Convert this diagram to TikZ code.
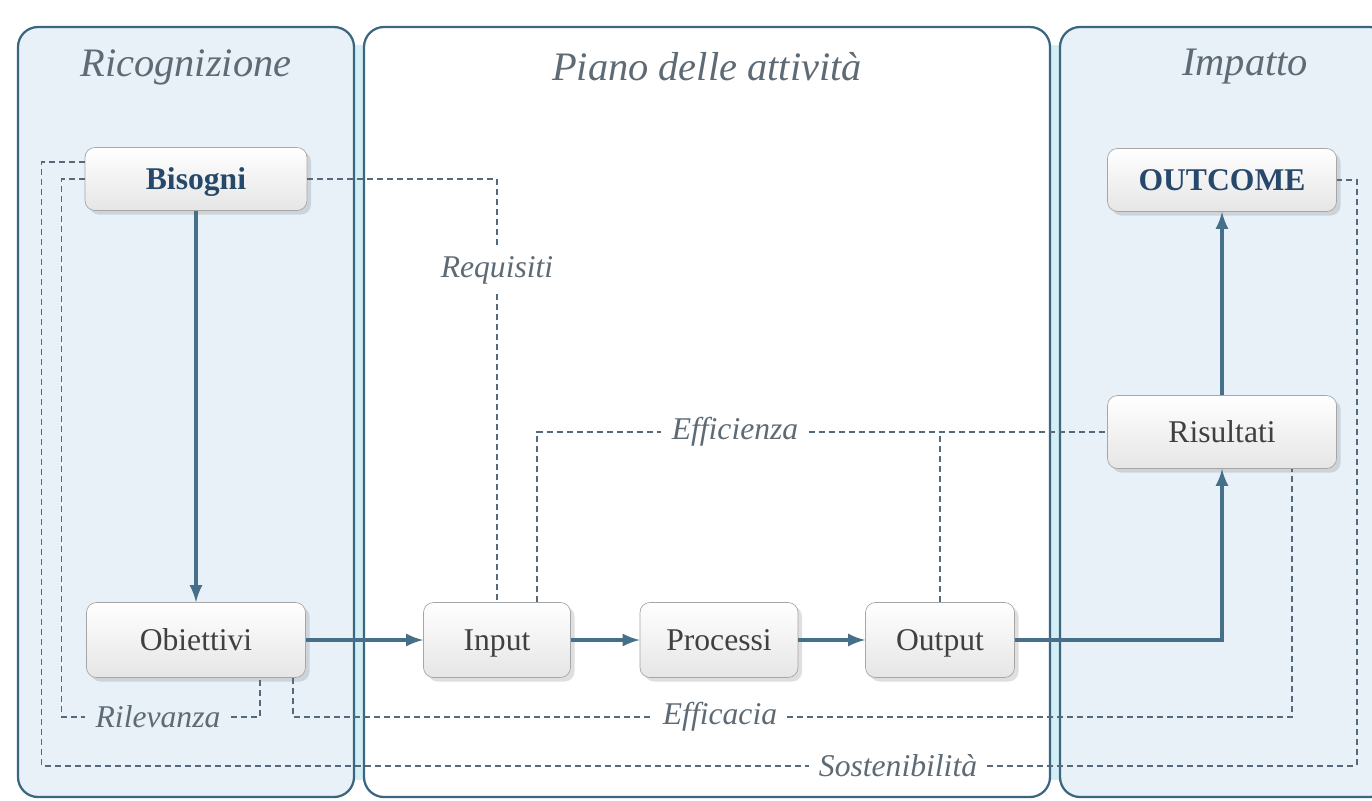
\documentclass[tikz,border=0pt]{standalone}
\usepackage{fontspec}
\setmainfont{Liberation Serif}
\usepackage{tikz}
\usetikzlibrary{positioning,calc,shadows,arrows}

\definecolor{panelblue}{HTML}{E8F1F8}
\definecolor{gapcyan}{HTML}{D4EEF5}
\definecolor{frame}{HTML}{3B6680}
\definecolor{flow}{HTML}{46708A}
\definecolor{dashc}{HTML}{55697A}
\definecolor{titlec}{HTML}{5E6A74}
\definecolor{boldc}{HTML}{26496B}

\begin{document}
\begin{tikzpicture}[x=0.2mm,y=-0.2mm]
\tikzstyle{panel}=[draw=frame, line width=0.45mm, rounded corners=4mm]
\tikzstyle{title}=[font=\itshape\fontsize{23}{27}\selectfont, text=titlec]
\tikzstyle{box}=[rectangle, rounded corners=2mm, draw=gray!70, top color=white, bottom color=gray!20, minimum height=15mm, font=\fontsize{18}{21}\selectfont, text=black!75, text height=13pt, text depth=1pt, drop shadow={opacity=0.25}]
\tikzstyle{boldbox}=[box, font=\bfseries\fontsize{18}{21}\selectfont, text=boldc, minimum height=12.6mm]
\tikzstyle{lbl}=[font=\itshape\fontsize{18}{21}\selectfont, text=titlec, inner sep=2mm]
\tikzstyle{flowarrow}=[color=flow, line width=0.8mm, -latex]
\tikzstyle{dline}=[draw=dashc, line width=0.3mm, dash pattern=on 1.2mm off 0.8mm]

\useasboundingbox (0,0) rectangle (1372,800);

% sfondi
\fill[gapcyan] (345,45) rectangle (375,780);
\fill[gapcyan] (1040,45) rectangle (1070,780);
\draw[panel, fill=panelblue] (18,27) rectangle (354,797);
\draw[panel, fill=white] (364,27) rectangle (1050,797);
\draw[panel, fill=panelblue] (1060,27) rectangle (1390,797);

\node[title] (tric) at (186,67) {Ricognizione};
\node[title] (tpiano) at (707,67) {Piano delle attività};
\node[title] (timp) at (1245,67) {Impatto};

	\node[boldbox, minimum width=44.4mm] (bisogni) at (196,179) {Bisogni};
	\node[box, minimum width=43.8mm] (obiettivi) at (196,640) {Obiettivi};
	\node[box, minimum width=29.4mm] (input) at (497,640) {Input};
	\node[box, minimum width=31.6mm] (processi) at (719,640) {Processi};
	\node[box, minimum width=29.8mm] (output) at (940,640) {Output};
	\node[box, minimum width=45.8mm, minimum height=14.6mm] (risultati) at (1222,432) {Risultati};
	\node[boldbox, minimum width=45.8mm] (outcome) at (1222,180) {OUTCOME};

	\node[lbl] (req) at (497,270) {Requisiti};
	\node[lbl] (effi) at (735,432) {Efficienza};
	\node[lbl] (ril) at (158,717) {Rilevanza};
	\node[lbl] (effc) at (720,717) {Efficacia};
	\node[lbl] (sost) at (898,766) {Sostenibilità};

	\path [flowarrow]
		(bisogni) edge [] (obiettivi)
		(obiettivi) edge [] (input)
		(input) edge [] (processi)
		(processi) edge [] (output)
		(risultati) edge [] (outcome);
	\draw[flowarrow] (output.east) -| (risultati.south);

	% criteri
	\draw[dline] (bisogni.east) -| (req.north);
	\draw[dline] (req.south) -- (input.north);
	\draw[dline] ($(input.north)+(40,0)$) |- (effi.west);
	\draw[dline] (effi.east) -- (risultati.west);
	\draw[dline] (output.north) -- (output.north |- effi.east);
	\draw[dline] (bisogni.west) -- ++(-23,0) |- (ril.west);
	\draw[dline] (ril.east) -| ($(obiettivi.south)+(64,0)$);
	\draw[dline] ($(obiettivi.south)+(97,0)$) |- (effc.west);
	\draw[dline] (effc.east) -| ($(risultati.south)+(70,0)$);
	\draw[dline] ($(bisogni.west)+(0,-17)$) -- ++(-43,0) |- (sost.west);
	\draw[dline] (sost.east) -| ($(outcome.east)+(20,0)$) -- (outcome.east);
\end{tikzpicture}
\end{document}
